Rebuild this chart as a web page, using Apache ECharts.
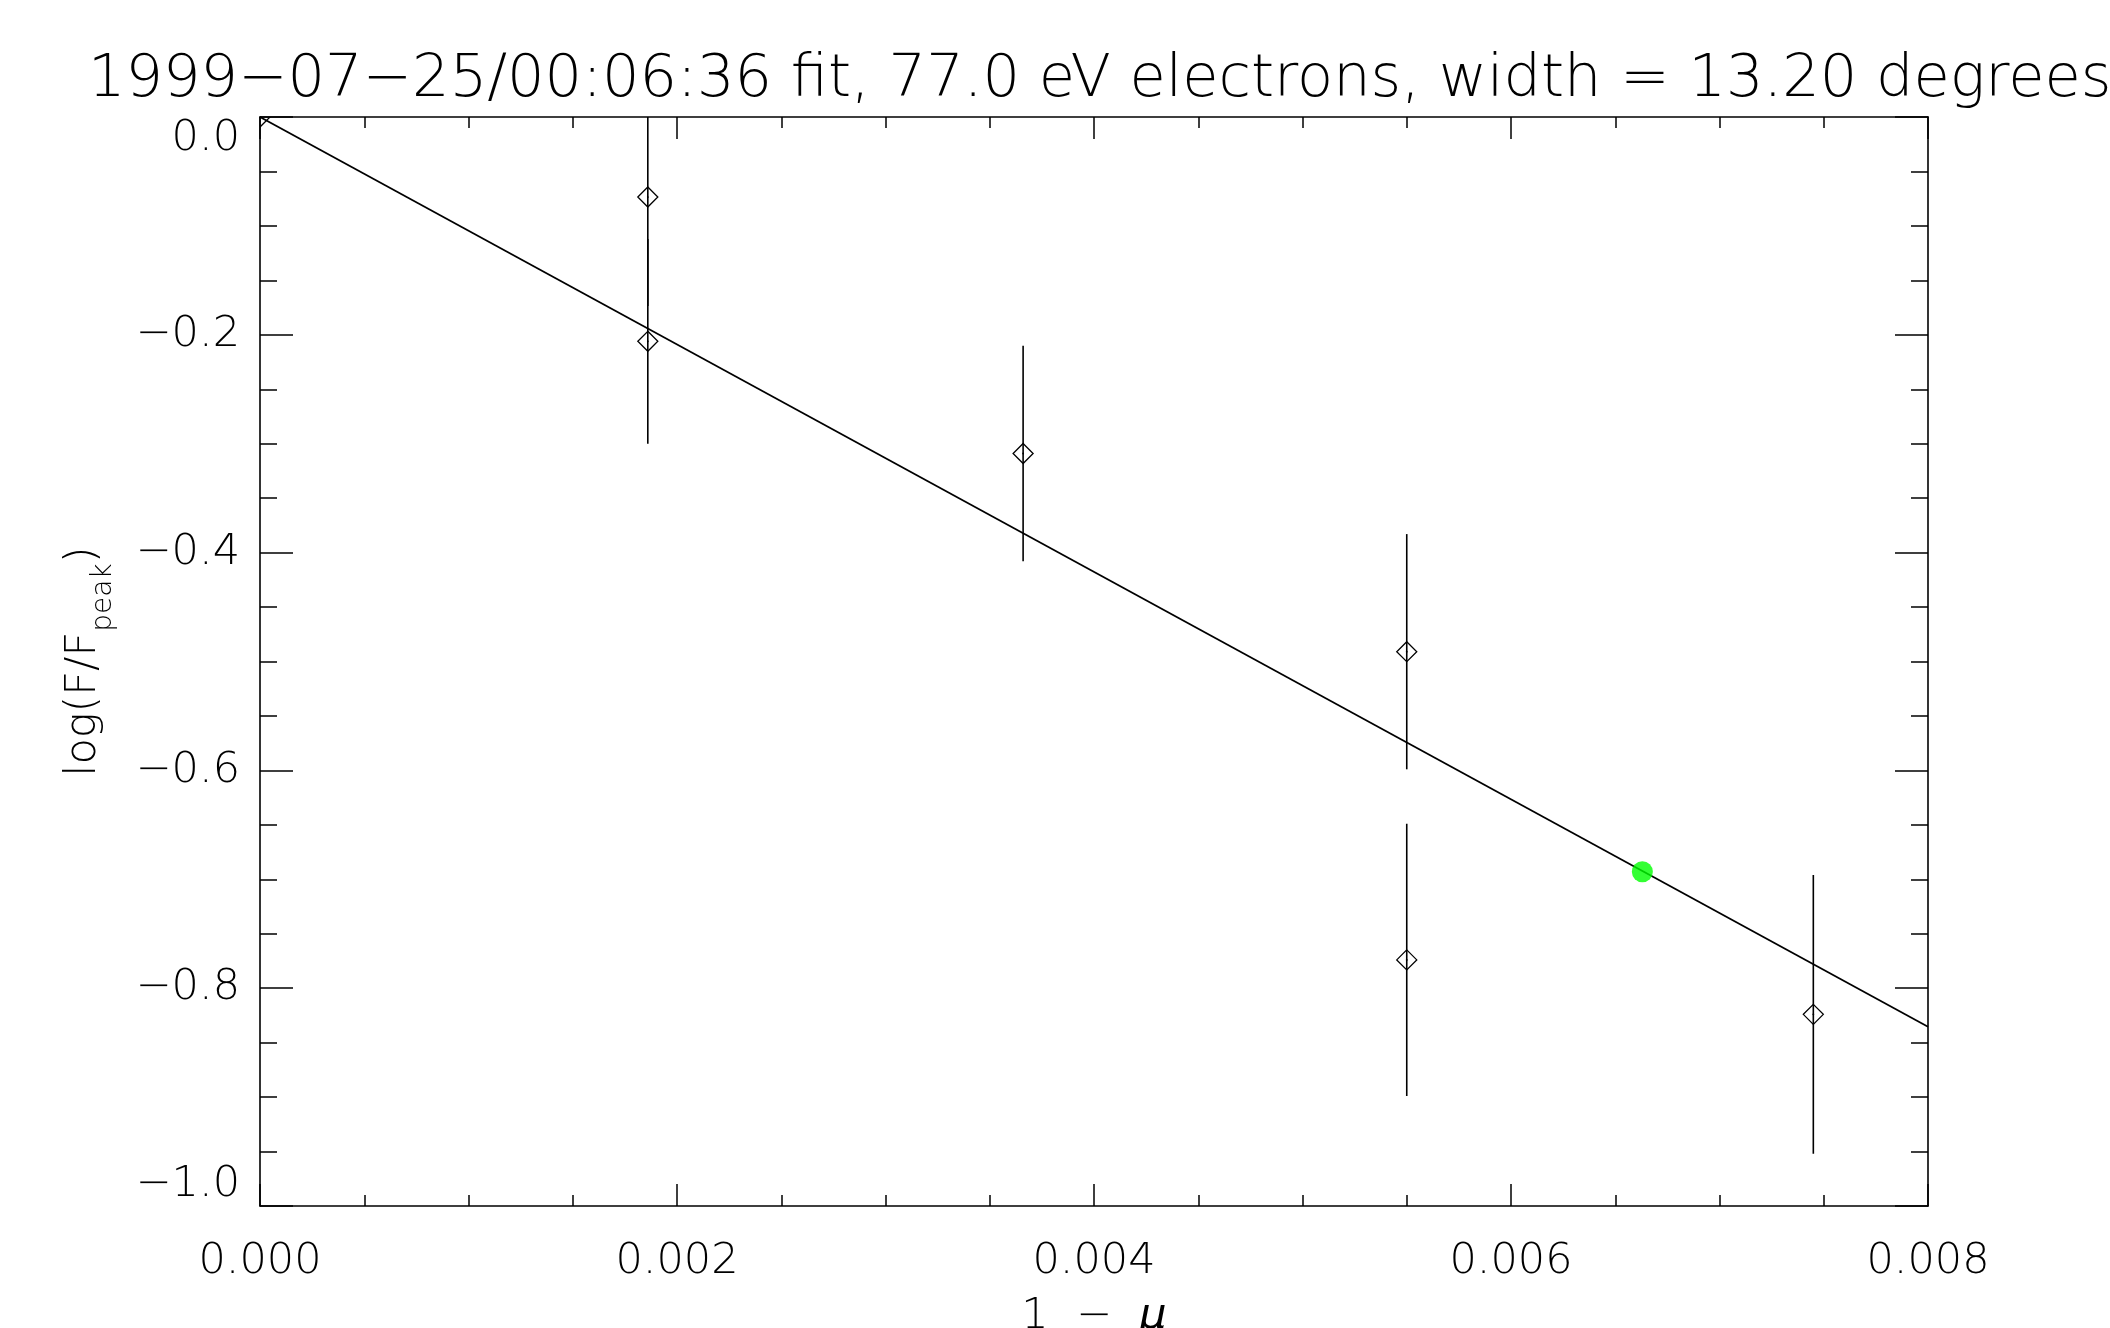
<!DOCTYPE html>
<html>
<head>
<meta charset="utf-8">
<script src="https://cdn.jsdelivr.net/npm/echarts@6/dist/echarts.min.js"></script>
<style>
html,body{margin:0;padding:0;background:#fff;}
#chart{width:2110px;height:1328px;}
</style>
</head>
<body>
<div id="chart"></div>
<script>
// ---- data ----
const titleText = '1999\u221207\u221225/00:06:36 fit, 77.0 eV electrons, width = 13.20 degrees';
const muX   = [0, 0.00186, 0.00186, 0.00366, 0.00550, 0.00550, 0.00745];   // 1 - mu
const logF  = [0, -0.0735, -0.206, -0.309, -0.491, -0.774, -0.824];       // log(F/Fpeak)
const errF  = [0, 0.100, 0.094, 0.099, 0.108, 0.125, 0.128];              // error bar half-length
const fitX  = [0, 0.008];
const fitY  = [0, -0.8354];
const halfX = [0.00663];
const halfY = [-0.6931];
const xTicks = [0.000, 0.002, 0.004, 0.006, 0.008];
const yTicks = [-1.0, -0.8, -0.6, -0.4, -0.2, 0.0];

const FONT = "'DejaVu Sans', 'Liberation Sans', sans-serif";
const FW = 200;
const chart = echarts.init(document.getElementById('chart'), null, {renderer:'canvas'});

const fmtY = v => (v < -1e-9 ? '\u2212' : '') + Math.abs(v).toFixed(1);
const fmtX = v => v.toFixed(3);

function xAx(pos, showLabel) {
  return {
    type:'value', position:pos, min:xTicks[0], max:xTicks[xTicks.length-1], interval:0.002,
    axisLine:{show:true, onZero:false, lineStyle:{color:'#000', width:1.6}},
    axisTick:{show:true, inside:true, length:22, lineStyle:{color:'#000', width:1.5}},
    minorTick:{show:true, splitNumber:4, length:11, lineStyle:{color:'#000', width:1.5}},
    splitLine:{show:false}, minorSplitLine:{show:false},
    axisLabel:{show:showLabel, fontSize:43, color:'#000', margin:34, fontFamily:FONT, fontWeight:FW, formatter:fmtX},
    name: showLabel ? '1  \u2212  {i|\u03bc}' : '',
    nameLocation:'middle', nameGap:89,
    nameTextStyle:{fontSize:43, color:'#000', fontFamily:FONT, fontWeight:FW,
      rich:{i:{fontSize:43, fontStyle:'italic', fontFamily:FONT, fontWeight:FW, color:'#000'}}}
  };
}
function yAx(pos, showLabel) {
  return {
    type:'value', position:pos, min:yTicks[0], max:yTicks[yTicks.length-1], interval:0.2,
    axisLine:{show:true, onZero:false, lineStyle:{color:'#000', width:1.6}},
    axisTick:{show:true, inside:true, length:33, lineStyle:{color:'#000', width:1.5}},
    minorTick:{show:true, splitNumber:4, length:17, lineStyle:{color:'#000', width:1.5}},
    splitLine:{show:false}, minorSplitLine:{show:false},
    axisLabel:{show:showLabel, fontSize:43, color:'#000', margin:20, fontFamily:FONT, fontWeight:FW,
      formatter:fmtY, verticalAlignMinLabel:'bottom', verticalAlignMaxLabel:'top'},
    name: showLabel ? '{a|log(F/F}{s|peak}{a|)}' : '',
    nameLocation:'middle', nameRotate:90, nameGap:142,
    nameTextStyle:{color:'#000', fontFamily:FONT, fontWeight:FW,
      rich:{
        a:{fontSize:43, lineHeight:43, verticalAlign:'top', fontFamily:FONT, fontWeight:FW, color:'#000'},
        s:{fontSize:28, lineHeight:56, verticalAlign:'bottom', fontFamily:FONT, fontWeight:FW, color:'#000'}
      }}
  };
}

const pts = muX.map((x,i) => [x, logF[i], errF[i]]);

chart.setOption({
  animation:false,
  backgroundColor:'#fff',
  title:{text:titleText, left:83, top:46,
    textStyle:{fontSize:59, fontWeight:FW, color:'#000', fontFamily:FONT}},
  grid:{left:260, right:182, top:117, bottom:122, containLabel:false, outerBoundsMode:'none'},
  xAxis:[xAx('bottom', true), xAx('top', false)],
  yAxis:[yAx('left', true), yAx('right', false)],
  series:[
    {
      type:'line', xAxisIndex:0, yAxisIndex:0,
      data: fitX.map((x,i)=>[x, fitY[i]]),
      showSymbol:false, symbol:'none', clip:true,
      lineStyle:{color:'#000', width:1.8}, z:2
    },
    {
      type:'custom', xAxisIndex:0, yAxisIndex:0, clip:true, z:3,
      data: pts,
      renderItem:(params, api) => {
        const x = api.value(0), y = api.value(1), e = api.value(2);
        const c = api.coord([x, y]);
        const ch = [];
        if (e > 0) {
          const t = api.coord([x, y + e]), b = api.coord([x, y - e]);
          ch.push({type:'line', shape:{x1:t[0], y1:t[1], x2:b[0], y2:b[1]},
                   style:{stroke:'#000', lineWidth:1.6}});
        }
        const r = 10;
        ch.push({type:'polygon',
          shape:{points:[[c[0], c[1]-r],[c[0]+r, c[1]],[c[0], c[1]+r],[c[0]-r, c[1]]]},
          style:{fill:'none', stroke:'#000', lineWidth:1.3}});
        ch.push({type:'circle', shape:{cx:c[0], cy:c[1], r:0.9}, style:{fill:'#000'}});
        return {type:'group', children:ch};
      }
    },
    {
      type:'scatter', xAxisIndex:0, yAxisIndex:0, z:4,
      data: halfX.map((x,i)=>[x, halfY[i]]),
      symbol:'circle', symbolSize:21,
      itemStyle:{color:'#00ff00', borderWidth:0}
    }
  ]
});
</script>
</body>
</html>
